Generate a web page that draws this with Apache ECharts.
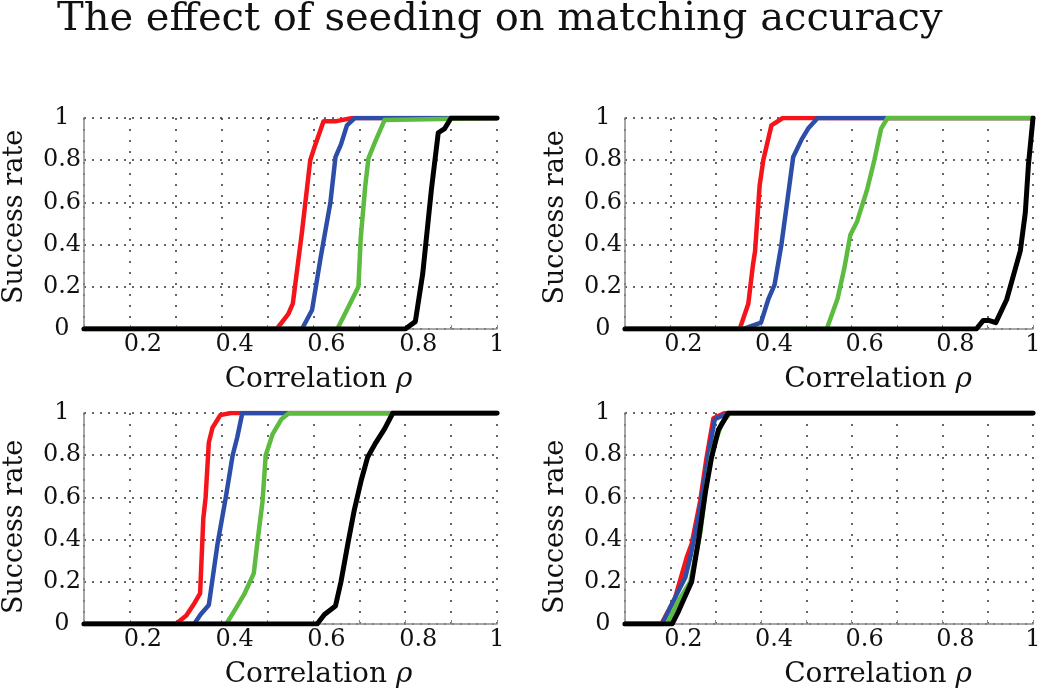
<!DOCTYPE html>
<html>
<head>
<meta charset="utf-8">
<script src="https://cdn.jsdelivr.net/npm/echarts@6/dist/echarts.min.js"></script>
<style>
html,body{margin:0;padding:0;background:#fff;}
#chart{width:1050px;height:694px;}
</style>
</head>
<body>
<div id="chart"></div>
<script>
// ---------- data (correlation rho, success rate) ----------
const chartTitle = 'The effect of seeding on matching accuracy';
const xTickLabels = ['0.2', '0.4', '0.6', '0.8', '1'];
const yTickLabels = ['0', '0.2', '0.4', '0.6', '0.8', '1'];
const seriesNames = ['Red', 'Blue', 'Green', 'Black'];

// top-left panel
const tlRed   = [[0.1,0],[0.52,0],[0.545,0.07],[0.555,0.12],[0.575,0.46],[0.593,0.8],[0.602,0.86],[0.622,0.985],[0.65,0.985],[0.685,1],[1,1]];
const tlBlue  = [[0.1,0],[0.575,0],[0.597,0.09],[0.615,0.33],[0.637,0.6],[0.648,0.815],[0.66,0.875],[0.673,0.965],[0.69,1],[1,1]];
const tlGreen = [[0.1,0],[0.652,0],[0.675,0.1],[0.698,0.2],[0.703,0.43],[0.713,0.68],[0.72,0.81],[0.735,0.89],[0.755,0.99],[1,1]];
const tlBlack = [[0.1,0],[0.8,0],[0.822,0.035],[0.838,0.26],[0.857,0.66],[0.872,0.93],[0.886,0.95],[0.9,1],[1,1]];

// top-right panel
const trRed   = [[0.1,0],[0.353,0],[0.372,0.12],[0.382,0.3],[0.387,0.37],[0.397,0.68],[0.405,0.8],[0.423,0.965],[0.448,1],[1,1]];
const trBlue  = [[0.1,0],[0.36,0],[0.38,0.015],[0.4,0.03],[0.416,0.14],[0.43,0.21],[0.445,0.4],[0.457,0.59],[0.471,0.815],[0.49,0.9],[0.504,0.95],[0.525,1],[1,1]];
const trGreen = [[0.1,0],[0.545,0],[0.569,0.145],[0.584,0.29],[0.597,0.445],[0.612,0.51],[0.634,0.66],[0.65,0.8],[0.665,0.95],[0.679,1],[1,1]];
const trBlack = [[0.1,0],[0.875,0],[0.89,0.04],[0.904,0.04],[0.918,0.03],[0.942,0.14],[0.972,0.37],[0.983,0.55],[0.99,0.78],[1,1]];

// bottom-left panel
const blRed   = [[0.1,0],[0.3,0],[0.323,0.04],[0.341,0.1],[0.353,0.145],[0.36,0.5],[0.365,0.6],[0.372,0.86],[0.38,0.93],[0.397,0.99],[0.42,1],[1,1]];
const blBlue  = [[0.1,0],[0.34,0],[0.354,0.045],[0.372,0.09],[0.391,0.38],[0.409,0.6],[0.424,0.8],[0.434,0.885],[0.445,1],[1,1]];
const blGreen = [[0.1,0],[0.41,0],[0.427,0.06],[0.449,0.14],[0.47,0.24],[0.478,0.39],[0.489,0.58],[0.496,0.8],[0.511,0.9],[0.53,0.97],[0.547,1],[1,1]];
const blBlack = [[0.1,0],[0.608,0],[0.624,0.045],[0.648,0.085],[0.66,0.2],[0.675,0.38],[0.689,0.54],[0.704,0.68],[0.718,0.79],[0.736,0.86],[0.755,0.925],[0.773,1],[1,1]];

// bottom-right panel
const brRed   = [[0.1,0],[0.18,0],[0.21,0.12],[0.236,0.315],[0.247,0.38],[0.266,0.585],[0.28,0.79],[0.295,0.975],[0.32,1],[1,1]];
const brBlue  = [[0.1,0],[0.182,0],[0.207,0.11],[0.233,0.22],[0.244,0.315],[0.266,0.55],[0.284,0.8],[0.298,0.97],[0.328,1],[1,1]];
const brGreen = [[0.1,0],[0.193,0],[0.218,0.11],[0.244,0.2],[0.266,0.43],[0.28,0.665],[0.291,0.81],[0.313,0.95],[0.331,1],[1,1]];
const brBlack = [[0.1,0],[0.204,0],[0.218,0.06],[0.247,0.2],[0.262,0.395],[0.277,0.62],[0.291,0.79],[0.306,0.92],[0.328,1],[1,1]];

const panels = [
  [tlRed, tlBlue, tlGreen, tlBlack],
  [trRed, trBlue, trGreen, trBlack],
  [blRed, blBlue, blGreen, blBlack],
  [brRed, brBlue, brGreen, brBlack]
];

// ---------- styling / layout ----------
const FONT = 'DejaVu Serif';
const lineColors = ['#f5141a', '#2d4ea8', '#5dbb3f', '#000000'];
const lineWidths = [4.5, 4.5, 4.5, 5];
const grids = [
  {left: 83,  top: 118, width: 414, height: 211},
  {left: 625, top: 118, width: 408, height: 211},
  {left: 83,  top: 413, width: 414, height: 211},
  {left: 625, top: 413, width: 408, height: 211}
];
const xNamePad = [[0,0,0,56],[0,0,0,98],[0,0,0,56],[0,0,0,98]];
const yNamePad = [[0,0,0,13],[0,0,0,12],[0,17,0,0],[0,17,0,0]];

function fmtNum(v) { return String(Math.round(v * 10) / 10); }

const xAxes = grids.map((g, i) => ({
  type: 'value', gridIndex: i, min: 0.1, max: 1, interval: 0.1,
  name: '{n|Correlation }{r|ρ}', nameLocation: 'middle', nameGap: 37,
  nameTextStyle: {
    padding: xNamePad[i],
    rich: {
      n: {fontFamily: FONT, fontSize: 28, color: '#111'},
      r: {fontFamily: FONT, fontSize: 28, fontStyle: 'italic', color: '#111'}
    }
  },
  axisLine: {show: true, lineStyle: {color: '#8a8a8a', width: 1.5}},
  axisTick: {show: true, inside: true, length: 4, lineStyle: {color: '#8a8a8a'}},
  axisLabel: {
    margin: 4,
    formatter: v => {
      const s = fmtNum(v);
      if (!xTickLabels.includes(s)) return '';
      return s === '1' ? '{e|' + s + '}' : '{m|' + s + '}';
    },
    rich: {
      m: {fontFamily: FONT, fontSize: 24, color: '#111', padding: [0, 0, 0, 26]},
      e: {fontFamily: FONT, fontSize: 24, color: '#111'}
    }
  },
  splitLine: {show: true, lineStyle: {color: '#333', width: 1.5, type: [2, 9]}}
}));

const yAxes = grids.map((g, i) => ({
  type: 'value', gridIndex: i, min: 0, max: 1, interval: 0.2,
  name: 'Success rate', nameLocation: 'middle', nameGap: 56,
  nameTextStyle: {fontFamily: FONT, fontSize: 27, color: '#111', padding: yNamePad[i]},
  axisLine: {show: true, lineStyle: {color: '#8a8a8a', width: 1.5}},
  axisTick: {show: false},
  axisLabel: {
    margin: 22, align: 'center', fontFamily: FONT, fontSize: 24, color: '#111',
    formatter: v => {
      const s = fmtNum(v);
      return yTickLabels.includes(s) ? s : '';
    }
  },
  splitLine: {show: true, lineStyle: {color: '#333', width: 1.5, type: [2, 6]}}
}));

const series = [];
panels.forEach((sets, i) => {
  sets.forEach((data, k) => {
    series.push({
      type: 'line', name: seriesNames[k], xAxisIndex: i, yAxisIndex: i,
      data: data, showSymbol: false, symbol: 'none', smooth: false,
      lineStyle: {color: lineColors[k], width: lineWidths[k], join: 'round', cap: 'round'},
      itemStyle: {color: lineColors[k]},
      z: 2 + k, silent: true, animation: false
    });
  });
});

const chart = echarts.init(document.getElementById('chart'), null, {renderer: 'canvas'});
chart.setOption({
  backgroundColor: '#fff',
  animation: false,
  title: {
    text: chartTitle, left: 57, top: 0, padding: 0,
    textStyle: {fontFamily: FONT, fontSize: 40, fontWeight: 'normal', color: '#111'}
  },
  grid: grids,
  xAxis: xAxes,
  yAxis: yAxes,
  series: series
});
</script>
</body>
</html>
